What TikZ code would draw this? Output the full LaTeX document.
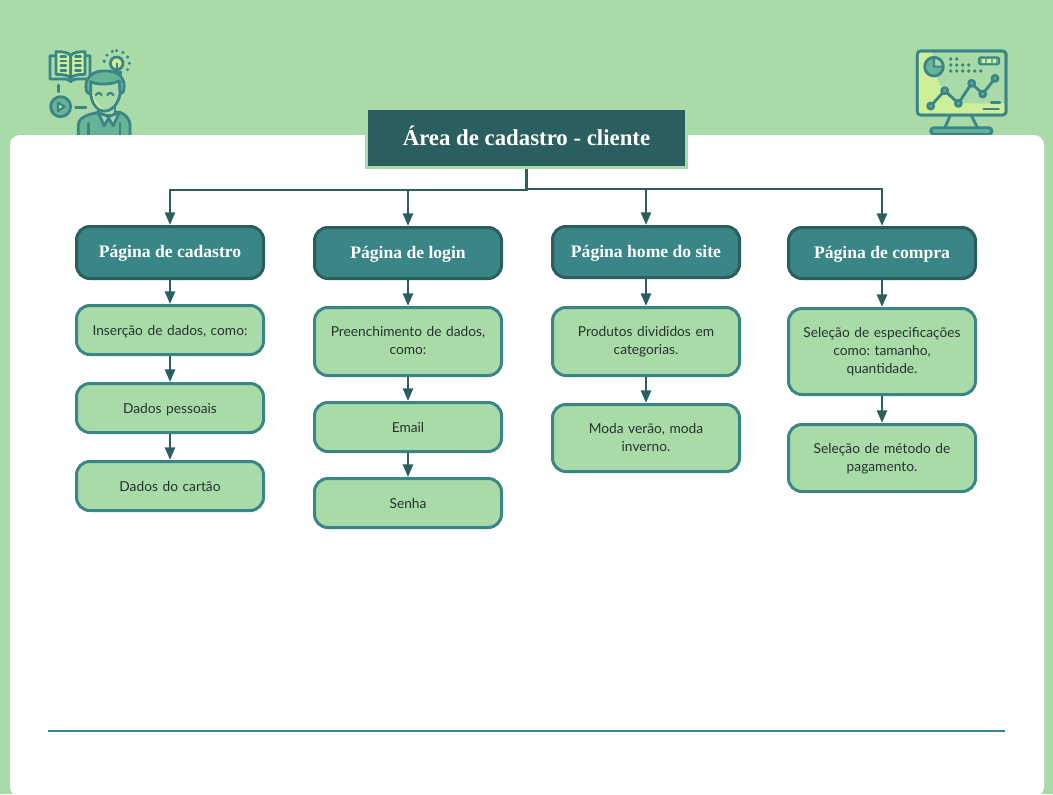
\documentclass[tikz,border=0pt]{standalone}
\usepackage{fontspec}
\setmainfont{Lato}
\newfontfamily\headfont{Liberation Serif}[BoldFont={Liberation Serif Bold}]
\usetikzlibrary{arrows.meta}
\frenchspacing
\definecolor{bgg}{HTML}{A9DBA8}
\definecolor{dk}{HTML}{2B5F5F}
\definecolor{md}{HTML}{3A8585}
\definecolor{yl}{HTML}{CFEE9A}
\definecolor{sh}{HTML}{67B398}
\definecolor{ink}{HTML}{25332E}
\tikzset{
 headbox/.style={draw=dk,fill=md,line width=2.25pt,rounded corners=10pt,minimum width=140.25pt,text=white,align=center,text height=10pt,text depth=1.8pt,font=\headfont\bfseries\fontsize{13.2pt}{16pt}\selectfont,inner sep=0pt},
 itembox/.style={draw=md,fill=bgg,line width=2.25pt,rounded corners=10pt,minimum width=140.25pt,text width=132pt,text=ink,align=center,font=\frenchspacing\fontsize{10.3pt}{13.4pt}\selectfont,inner sep=0pt},
 oneline/.style={itembox,text depth=-0.4pt},
 twolines/.style={itembox,text depth=14.6pt},
 threelines/.style={itembox,text depth=28pt},
 titlebox/.style={draw=bgg,fill=dk,line width=2.25pt,minimum width=240pt,minimum height=44.25pt,text=white,text height=13pt,text depth=1.8pt,font=\headfont\bfseries\fontsize{17.1pt}{20pt}\selectfont,inner sep=0pt},
 link/.style={draw=dk,line width=1.9pt,-{Triangle[width=7.5pt,length=9.5pt]}},
 ic/.style={draw=md,line width=2.1pt,line cap=round,line join=round},
 zoomx/.style={x=0.25pt,y=-0.25pt},
}
\begin{document}
\begin{tikzpicture}[x=0.75pt,y=-0.75pt]
\useasboundingbox (0,0) rectangle (1053,794);
\fill[bgg] (0,0) rectangle (1053,794);
% person icon
\begin{scope}[shift={(30,35)},zoomx]
 \draw[ic] (78,62) -- (60,62) -- (60,132) -- (105,132) .. controls (113,132) and (118,136) .. (122,140) .. controls (126,136) and (131,132) .. (140,132) -- (180,132) -- (180,62) -- (165,62);
 \draw[ic,fill=yl] (122,62) .. controls (115,52) and (100,50) .. (78,50) -- (78,118) .. controls (100,118) and (115,120) .. (122,130) -- cycle;
 \draw[ic,fill=yl] (122,62) .. controls (129,52) and (144,50) .. (165,50) -- (165,118) .. controls (144,118) and (129,120) .. (122,130) -- cycle;
 \foreach \y in {64,78,92,106}{\draw[ic,line width=1.8pt] (92,\y) -- (108,\y); \draw[ic,line width=1.8pt] (136,\y) -- (152,\y);}
 \draw[ic] (85,150) -- (85,170);
 \draw[ic,fill=sh] (92,215) circle (30);
 \draw[ic,fill=yl,line width=1.6pt] (84,203) -- (84,228) -- (104,215) -- cycle;
 \draw[ic] (137,218) -- (168,218);
 % bulb
 \draw[ic,fill=yl] (260,85) circle (19);
 \draw[ic,fill=bgg] (248,112) -- (272,112) -- (268,134) -- (252,134) -- cycle;
 \draw[ic,line width=1.6pt] (260,85) -- (260,110);
 \foreach \a in {-170,-140,-110,-90,-60,-30,0,30,190}{\fill[md] (260,85) ++(\a:38) circle (5);}
 % shirt
 \draw[ic,fill=sh] (145,310) -- (145,272) .. controls (145,250) and (165,240) .. (205,232) -- (270,232) .. controls (285,238) and (300,250) .. (300,272) -- (300,310) -- cycle;
 \draw[ic] (175,265) -- (175,310) (270,265) -- (270,310);
 % neck and face
 \draw[ic,fill=bgg] (205,205) rectangle (255,240);
 \draw[ic,fill=bgg] (205,232) -- (222,272) -- (236,250) -- (250,272) -- (268,232) -- (236,245) -- cycle;
 \draw[ic,fill=sh] (170,170) .. controls (158,130) and (190,105) .. (225,108) .. controls (262,105) and (292,130) .. (280,170) .. controls (275,185) and (175,185) .. (170,170) -- cycle;
 \draw[ic,fill=bgg] (182,140) .. controls (200,150) and (240,150) .. (268,138) -- (270,175) .. controls (267,205) and (245,228) .. (225,228) .. controls (200,228) and (185,205) .. (182,175) -- cycle;
 \fill[yl] (187,172) .. controls (189,205) and (205,224) .. (225,224) .. controls (205,215) and (192,195) .. (187,172) -- cycle;
 \draw[ic,line width=1.6pt] (198,180) .. controls (203,172) and (210,172) .. (215,180);
 \draw[ic,line width=1.6pt] (232,180) .. controls (237,172) and (244,172) .. (250,180);
\end{scope}
% monitor icon
\begin{scope}[shift={(900,35)},zoomx]
 \draw[ic] (150,243) -- (135,277) (215,243) -- (232,277);
 \draw[ic,fill=sh,rounded corners=2.5pt] (92,278) rectangle (276,298);
 \draw[ic,fill=bgg,rounded corners=2.5pt] (52,48) rectangle (318,240);
 \fill[yl] (56,53) -- (98,53) .. controls (98,150) and (150,205) .. (210,205) -- (314,205) -- (314,236) -- (56,236) -- cycle;
 \draw[ic,rounded corners=2.5pt] (52,48) rectangle (318,240);
 \draw[ic,fill=sh] (102,95) circle (28);
 \draw[ic,fill=bgg,line width=1.6pt] (102,95) -- (102,68) arc[start angle=-90,end angle=0,radius=27] -- cycle;
 \foreach \x/\y in {152/72,170/72,152/90,170/90,188/90,206/90,152/108,170/108,188/108,206/108,224/108,242/108}{\fill[md] (\x,\y) circle (5.5);}
 \draw[ic,fill=sh,line width=1.6pt,rounded corners=1.5pt] (237,67) rectangle (297,88);
 \foreach \x in {250,267,284}{\fill[yl] (\x-5,72) rectangle (\x+5,83);}
 \draw[ic] (92,213) -- (134,167) -- (175,205) -- (215,145) -- (248,177) -- (285,130);
 \foreach \x/\y in {92/213,134/167,175/205,215/145,248/177,285/130}{\draw[ic,fill=sh] (\x,\y) circle (9);}
 \draw[ic] (274,203) -- (300,203) (251,222) -- (296,222);
\end{scope}
% white panel
\fill[white,rounded corners=7.5pt] (10,135) rectangle (1044,797);
\draw[md,line width=1.5pt] (48,731) -- (1005,731);
% nodes
\node[titlebox] (root) at (526.5,138) {Área de cadastro - cliente};
\node[headbox,minimum height=39pt] (h1) at (170,252.5) {Página de cadastro};
\node[headbox,minimum height=38.25pt] (h2) at (408,253) {Página de login};
\node[headbox,minimum height=38.25pt] (h3) at (646,252) {Página home do site};
\node[headbox,minimum height=38.25pt] (h4) at (882,253) {Página de compra};
\node[oneline,minimum height=36.75pt] (a1) at (170,330) {Inserção de dados, como:};
\node[oneline,minimum height=36.75pt] (a2) at (170,408) {Dados pessoais};
\node[oneline,minimum height=36.75pt] (a3) at (170,486) {Dados do cartão};
\node[twolines,minimum height=51pt] (b1) at (408,341.5) {Preenchimento de dados,\\como:};
\node[oneline,minimum height=36.75pt] (b2) at (408,427) {Email};
\node[oneline,minimum height=36.75pt] (b3) at (408,503) {Senha};
\node[twolines,minimum height=51pt] (c1) at (646,341.5) {Produtos divididos em\\categorias.};
\node[twolines,minimum height=50.25pt] (c2) at (646,438) {Moda verão, moda\\inverno.};
\node[threelines,minimum height=64.5pt] (d1) at (882,351.5) {Seleção de especificações\\como: tamanho,\\quantidade.};
\node[twolines,minimum height=50.25pt] (d2) at (882,458) {Seleção de método de\\pagamento.};
% connectors
\draw[link] (root.south) -- ++(0,21) -| (h1.north);
\draw[link] (root.south) -- ++(0,21) -| (h2.north);
\draw[link] (root.south) -- ++(0,20) -| (h3.north);
\draw[link] (root.south) -- ++(0,20) -| (h4.north);
\foreach \p/\q in {h1/a1,a1/a2,a2/a3,h2/b1,b1/b2,b2/b3,h3/c1,c1/c2,h4/d1,d1/d2}{\draw[link] (\p) -- (\q);}
\end{tikzpicture}
\end{document}
